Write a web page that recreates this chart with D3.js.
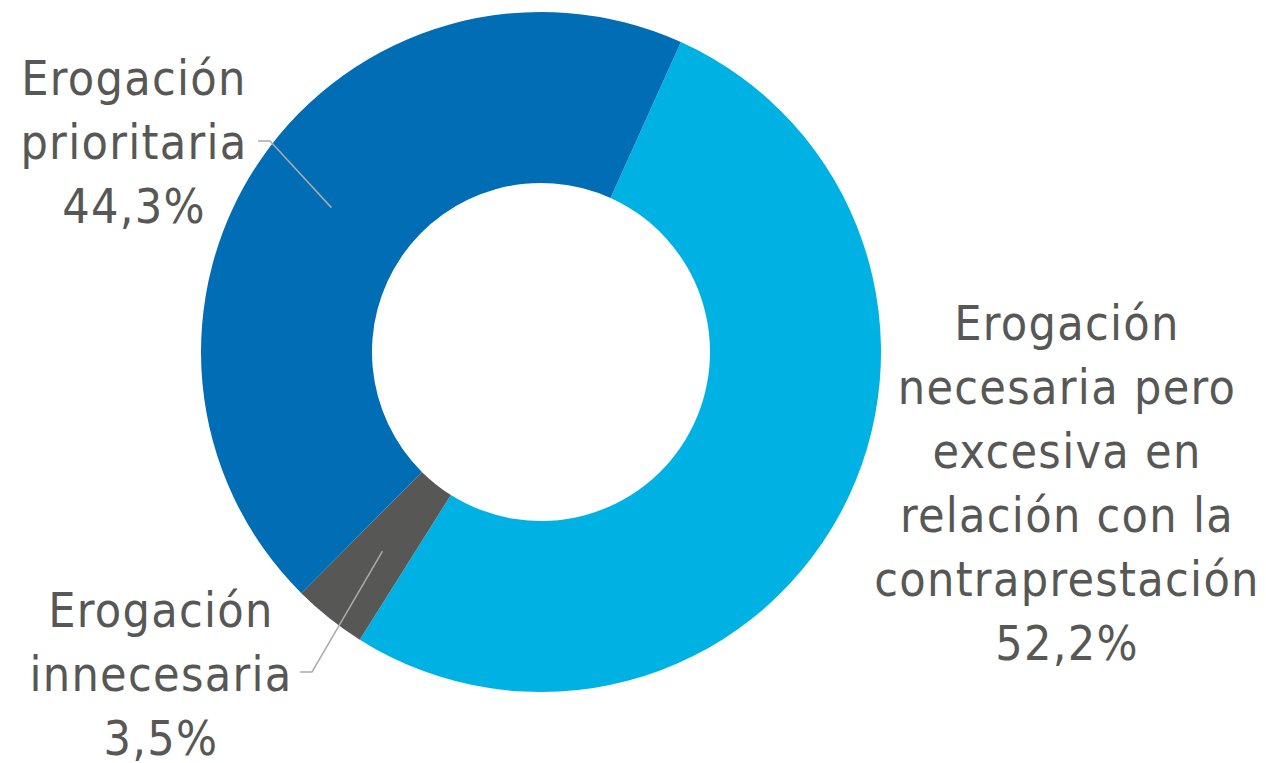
<!DOCTYPE html>
<html>
<head>
<meta charset="utf-8">
<script src="https://cdn.jsdelivr.net/npm/d3@7"></script>
<style>
  html, body { margin: 0; padding: 0; background: #ffffff; }
  svg { display: block; }
  text { font-family: "DejaVu Sans Condensed", "DejaVu Sans", sans-serif; fill: #575756; letter-spacing: 1.3px; }
</style>
</head>
<body>
<svg id="chart" width="1266" height="763"></svg>
<script>
const categories = ["Erogación necesaria pero excesiva en relación con la contraprestación", "Erogación innecesaria", "Erogación prioritaria"];
const values = [52.2, 3.5, 44.3];
const valueLabels = ["52,2%", "3,5%", "44,3%"];
const labelLines = [
  ["Erogación", "necesaria pero", "excesiva en", "relación con la", "contraprestación"],
  ["Erogación", "innecesaria"],
  ["Erogación", "prioritaria"]
];
const colors = ["#00B2E3", "#575756", "#006DB5"];

const svg = d3.select("#chart");
const cx = 541, cy = 352, outerR = 340, innerR = 169;
const startDeg = 24.3;

const data = categories.map((c, i) => ({ name: c, value: values[i], label: valueLabels[i], lines: labelLines[i], color: colors[i] }));

const pie = d3.pie().value(d => d.value).sort(null)
  .startAngle(startDeg * Math.PI / 180)
  .endAngle(startDeg * Math.PI / 180 + 2 * Math.PI);
const arc = d3.arc().innerRadius(innerR).outerRadius(outerR);

const g = svg.append("g").attr("transform", `translate(${cx},${cy})`);
const arcs = pie(data);
g.selectAll("path").data(arcs).enter().append("path")
  .attr("d", arc).attr("fill", d => d.data.color);

// label positions (layout)
const labelPos = [
  { x: 1067, y: 340 },
  { x: 161, y: 627 },
  { x: 134, y: 95 }
];
const lineH = 64;
const fontSize = 48;

arcs.forEach((a, i) => {
  const t = svg.append("text")
    .attr("text-anchor", "middle")
    .attr("font-size", fontSize)
    .attr("x", labelPos[i].x).attr("y", labelPos[i].y);
  const all = a.data.lines.concat([a.data.label]);
  all.forEach((s, k) => {
    t.append("tspan").attr("x", labelPos[i].x).attr("dy", k === 0 ? 0 : lineH).text(s);
  });
});

// leader lines
const midR = (innerR + outerR) / 2;
const lineArc = d3.arc().innerRadius(midR).outerRadius(midR);
const leaders = [
  { arcIdx: 2, pts: [[258, 141], [270, 141]] },
  { arcIdx: 1, pts: [[300, 672], [312, 672]] }
];
leaders.forEach(l => {
  const c = lineArc.centroid(arcs[l.arcIdx]);
  const p = [cx + c[0], cy + c[1]];
  svg.append("polyline")
    .attr("points", l.pts.concat([p]).map(q => q.join(",")).join(" "))
    .attr("fill", "none").attr("stroke", "#ababab").attr("stroke-width", 1.5);
});
</script>
</body>
</html>
